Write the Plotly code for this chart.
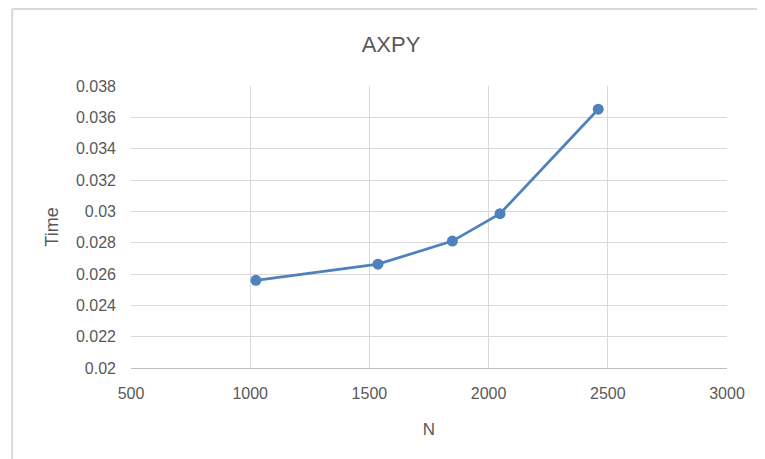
import plotly.graph_objects as go

# Data
n_values = [1024, 1536, 1848, 2048, 2460]
time_values = [0.0256, 0.02663, 0.0281, 0.02985, 0.03652]

x_tick_vals = [500, 1000, 1500, 2000, 2500, 3000]
x_tick_text = ["500", "1000", "1500", "2000", "2500", "3000"]
y_tick_vals = [0.02, 0.022, 0.024, 0.026, 0.028, 0.03, 0.032, 0.034, 0.036, 0.038]
y_tick_text = ["0.02", "0.022", "0.024", "0.026", "0.028", "0.03", "0.032", "0.034", "0.036", "0.038"]

# page body has an 8px margin, so the figure starts at (8, 8) in the window
OFF = 8
W, H = 765 - OFF, 459 - OFF
ML, MR, MT, MB = 130.5 - OFF, 37.5, 86 - OFF, 90.5
FONT = "Liberation Sans, Arial, sans-serif"
TXT = "#595959"
GRID = "#d9d9d9"
BLUE = "#4f81bd"

fig = go.Figure()
fig.add_trace(go.Scatter(
    x=n_values, y=time_values, mode="lines+markers",
    line=dict(color=BLUE, width=2.75),
    marker=dict(color=BLUE, size=11),
    showlegend=False,
))

pw = W - ML - MR
ph = H - MT - MB
# chart border (cropped at right/bottom in the reference)
bx0 = (11.5 - OFF - ML) / pw
by0 = 1 + (MT - 0.8) / ph
fig.add_shape(type="line", xref="paper", yref="paper",
              x0=bx0, x1=(W + 5 - ML) / pw, y0=by0, y1=by0,
              line=dict(color=GRID, width=2))
fig.add_shape(type="line", xref="paper", yref="paper",
              x0=bx0, x1=bx0, y0=by0, y1=-(MB + 5) / ph,
              line=dict(color=GRID, width=2))

fig.update_layout(
    width=W, height=H,
    margin=dict(l=ML, r=MR, t=MT, b=MB, pad=0),
    paper_bgcolor="white", plot_bgcolor="white",
    font=dict(family=FONT, color=TXT, size=16),
    title=dict(text="AXPY", x=(391 - OFF) / W, xanchor="center", y=1 - (44 - OFF) / H,
               yanchor="middle", font=dict(size=22, color=TXT, family=FONT)),
    xaxis=dict(
        range=[500, 3000], tickvals=x_tick_vals, ticktext=x_tick_text,
        showgrid=True, gridcolor=GRID, gridwidth=1,
        showline=True, linecolor="#bfbfbf", linewidth=1, mirror=False,
        zeroline=False, ticks="", ticklabelstandoff=11,
        tickfont=dict(size=16, color=TXT),
        title=dict(text="N", font=dict(size=17, color=TXT), standoff=21),
    ),
    yaxis=dict(
        range=[0.02, 0.038], tickvals=y_tick_vals, ticktext=y_tick_text,
        showgrid=True, gridcolor=GRID, gridwidth=1,
        showline=False, zeroline=False, ticks="", ticklabelstandoff=14,
        tickfont=dict(size=16, color=TXT),
        title=dict(text="Time", font=dict(size=18, color=TXT), standoff=12),
    ),
)

fig.write_html("out.html")
